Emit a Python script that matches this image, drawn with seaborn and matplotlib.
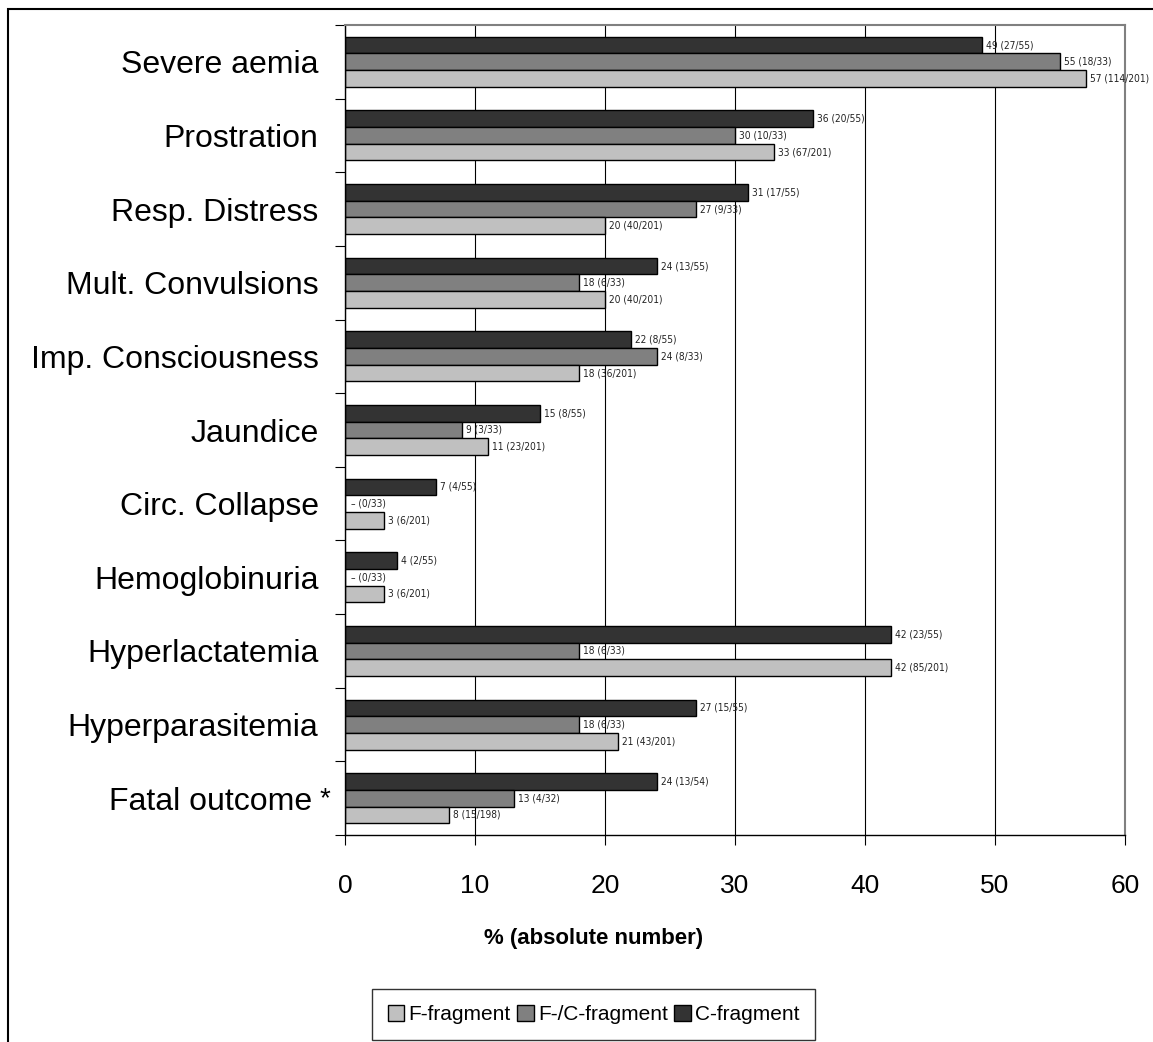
import matplotlib
matplotlib.use("Agg")
import pandas as pd
import numpy as np
import matplotlib.pyplot as plt
import seaborn as sns
from matplotlib import font_manager
from matplotlib.patches import Rectangle, Patch
from matplotlib.ticker import MultipleLocator, FixedLocator
from matplotlib.transforms import ScaledTranslation

symptoms = ["Severe aemia", "Prostration", "Resp. Distress", "Mult. Convulsions",
            "Imp. Consciousness", "Jaundice", "Circ. Collapse", "Hemoglobinuria",
            "Hyperlactatemia", "Hyperparasitemia", "Fatal outcome"]

f_pct = [57, 33, 20, 20, 18, 11, 3, 3, 42, 21, 8]
fc_pct = [55, 30, 27, 18, 24, 9, 0, 0, 18, 18, 13]
c_pct = [49, 36, 31, 24, 22, 15, 7, 4, 42, 27, 24]

f_abs = ["114/201", "67/201", "40/201", "40/201", "36/201", "23/201", "6/201",
         "6/201", "85/201", "43/201", "15/198"]
fc_abs = ["18/33", "10/33", "9/33", "6/33", "8/33", "3/33", "0/33", "0/33",
          "6/33", "6/33", "4/32"]
c_abs = ["27/55", "20/55", "17/55", "13/55", "8/55", "8/55", "4/55", "2/55",
         "23/55", "15/55", "13/54"]

groups = ["F-fragment", "F-/C-fragment", "C-fragment"]
colors = {"F-fragment": "#c0c0c0", "F-/C-fragment": "#808080", "C-fragment": "#333333"}

df = pd.concat([
    pd.DataFrame({"symptom": symptoms, "pct": f_pct, "abs": f_abs, "group": "F-fragment"}),
    pd.DataFrame({"symptom": symptoms, "pct": fc_pct, "abs": fc_abs, "group": "F-/C-fragment"}),
    pd.DataFrame({"symptom": symptoms, "pct": c_pct, "abs": c_abs, "group": "C-fragment"}),
])

sns.set_style("white")
names = {f.name for f in font_manager.fontManager.ttflist}
big_font = "Liberation Sans Narrow" if "Liberation Sans Narrow" in names else "Liberation Sans"
plt.rcParams["font.family"] = ["Liberation Sans", "DejaVu Sans"]
for k in ["text.color", "axes.labelcolor", "xtick.color", "ytick.color"]:
    plt.rcParams[k] = "black"

fig = plt.figure(figsize=(11.53, 10.42), dpi=100)
ax = fig.add_axes([345/1153, 1-835/1042, 780/1153, 810/1042])

# top bar in each group is C-fragment
hue_order = ["C-fragment", "F-/C-fragment", "F-fragment"]
sns.barplot(data=df, y="symptom", x="pct", hue="group", hue_order=hue_order,
            order=symptoms, palette=colors, orient="h", width=0.68, saturation=1,
            edgecolor="black", linewidth=1.0, legend=False, ax=ax)

for cont, grp in zip(ax.containers, hue_order):
    sub = df[df["group"] == grp].set_index("symptom")
    for bar in cont:
        yc = bar.get_y() + bar.get_height() / 2
        idx = int(round(yc))
        val = sub.loc[symptoms[idx], "pct"]
        n = sub.loc[symptoms[idx], "abs"]
        txt = f"{val} ({n})" if val > 0 else f"\u2013 ({n})"
        off = 3 if val > 0 else 4
        ax.annotate(txt, xy=(val, yc), xytext=(off, 0), textcoords="offset points",
                    va="center", ha="left", fontsize=7.3, family="DejaVu Sans",
                    fontstretch="condensed", color="#222222", annotation_clip=False)

ax.set_xlim(0, 60)
ax.set_ylim(len(symptoms) - 0.5, -0.5)
ax.xaxis.set_major_locator(MultipleLocator(10))
ax.yaxis.set_minor_locator(FixedLocator(np.arange(-0.5, len(symptoms), 1.0)))
ax.grid(axis="x", color="black", linewidth=0.8)
ax.grid(axis="y", visible=False)
ax.set_axisbelow(True)

ax.tick_params(axis="x", which="major", length=7.2, width=0.8, direction="out",
               color="black", pad=21, labelsize=19, bottom=True)
ax.tick_params(axis="y", which="major", length=0, pad=19, labelsize=23)
ax.tick_params(axis="y", which="minor", length=7.2, width=0.8, direction="out",
               color="black", left=True)
for lab in ax.get_xticklabels():
    lab.set_family(big_font)

# make room for the asterisk after "Fatal outcome"
last = ax.get_yticklabels()[-1]
last.set_transform(last.get_transform() + ScaledTranslation(-0.06, 0, fig.dpi_scale_trans))
ax.annotate("*", xy=(0, len(symptoms) - 1), xycoords=("axes fraction", "data"),
            xytext=(-18, -1), textcoords="offset points", fontsize=20,
            ha="left", va="center")

ax.set_ylabel("")
ax.set_xlabel("% (absolute number)", fontsize=16, fontweight="bold", family=big_font)
ax.xaxis.set_label_coords(0.319, -0.115)

for s in ["left", "bottom"]:
    ax.spines[s].set_color("black")
    ax.spines[s].set_linewidth(1.0)
for s in ["top", "right"]:
    ax.spines[s].set_color("#808080")
    ax.spines[s].set_linewidth(1.5)

handles = [Patch(facecolor=colors[g], edgecolor="black", linewidth=1.0) for g in groups]
leg = fig.legend(handles, groups, loc="center", bbox_to_anchor=(593.5/1153, 1-1014.5/1042),
                 ncol=3, frameon=True, fancybox=False, edgecolor="black",
                 prop={"family": big_font, "size": 15}, handlelength=0.8,
                 handleheight=0.8, handletextpad=0.2, columnspacing=0.3,
                 borderpad=0.75)
leg.get_frame().set_linewidth(1.0)

fig.add_artist(Rectangle((7.5/1153, -0.2), 1.5, 0.2 + 1 - 9/1042, transform=fig.transFigure,
                         fill=False, edgecolor="black", linewidth=1.5))

fig.savefig("out.png", dpi=100)
